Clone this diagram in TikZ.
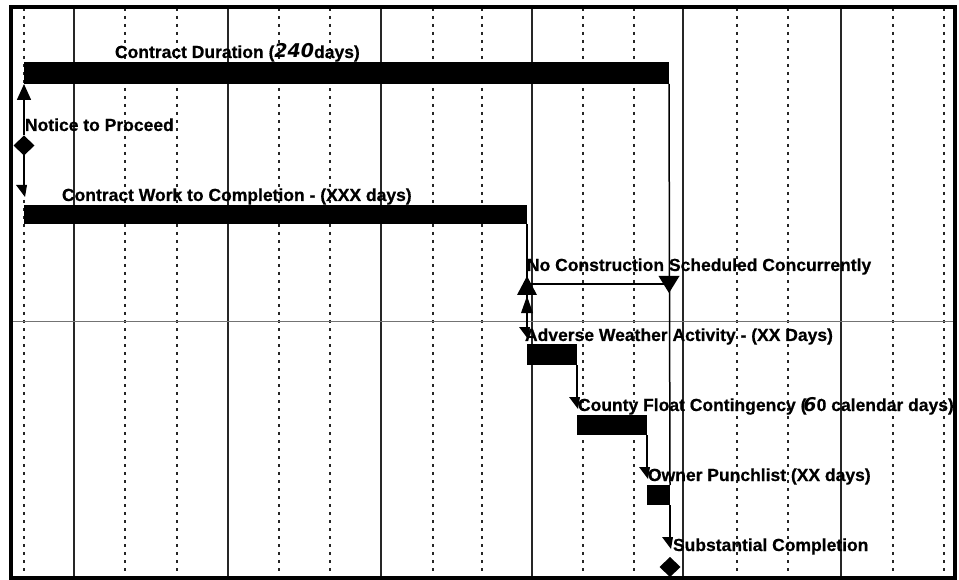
\documentclass[tikz,border=0pt]{standalone}
\usepackage{fontspec}
\setmainfont{Liberation Sans}
\newfontfamily\lblf{Liberation Sans Bold}[FakeBold=0.6]
\newfontfamily\hwf{DejaVu Sans Bold Oblique}
\usetikzlibrary{shapes.geometric,arrows.meta}
\tikzset{
  bar/.style={fill=black,draw=none,inner sep=0pt,outer sep=0pt,anchor=north west},
  lbl/.style={inner sep=0pt,outer sep=0pt,anchor=base west,font=\lblf\fontsize{17.5}{20}\selectfont},
  ms/.style={diamond,fill=black,draw=none,inner sep=0pt,outer sep=0pt,minimum width=21pt,minimum height=20pt},
  link/.style={line width=1.5pt,black},
  gridsolid/.style={line width=1.2pt,black!85},
  griddash/.style={line width=1.1pt,black!85,dash pattern=on 3pt off 5pt},
  tipmark/.pic={\fill[black] (-8,0) -- (3,0) -- (1,12) -- cycle;},
}
\newcommand{\hw}[1]{{\hwf\fontsize{19}{20}\selectfont #1}}
\begin{document}
\begin{tikzpicture}[x=1pt,y=-1pt]
\useasboundingbox (0,0) rectangle (959,580);
\fill[white] (0,0) rectangle (959,580);
% grid
\foreach \gx in {74,228,381,532,683,841}
  \draw[gridsolid] (\gx,8) -- (\gx,577);
\foreach \gx in {24,125,177,279,330,433,482,583,634,737,788,893,944}
  \draw[griddash] (\gx,8) -- (\gx,577);
\draw[line width=1pt,black!55] (10,321) -- (955,321);
% border
\draw[line width=4pt,black] (10.5,7) rectangle (955,578);

% bars
\node[bar,minimum width=645pt,minimum height=22pt] (dur) at (24,62) {};
\node[bar,minimum width=503pt,minimum height=19pt] (work) at (24,205) {};
\node[bar,minimum width=50pt,minimum height=21pt] (adv) at (527,344) {};
\node[bar,minimum width=70pt,minimum height=20pt] (cnty) at (577,415) {};
\node[bar,minimum width=23pt,minimum height=20pt] (own) at (647,485) {};

% milestones
\node[ms] (ntp) at (24,145.5) {};
\node[ms] (sub) at (670,567) {};

% labels
\node[lbl] (durlbl) at (115,58) {Contract Duration (\hw{240}days)};
\node[lbl] (ntplbl) at (25,131) {Notice to Proceed};
\node[lbl] (worklbl) at (62,201) {Contract Work to Completion - (XXX days)};
\node[lbl] (nclbl) at (527,271) {No Construction Scheduled Concurrently};
\node[lbl] (advlbl) at (525,341) {Adverse Weather Activity - (XX Days)};
\node[lbl] (cntylbl) at (578,411) {County Float Contingency (\kern-3pt\hw{6}0 calendar days)};
\node[lbl] (ownlbl) at (648,481) {Owner Punchlist (XX days)};
\node[lbl] (sublbl) at (673,551) {Substantial Completion};

% tip coordinates
\coordinate (wtip) at (24,185);
\coordinate (atip) at (527,327);
\coordinate (ctip) at (577,397);
\coordinate (otip) at (647,467);
\coordinate (stip) at (670,537);
\coordinate (ncs) at (527,284);
\coordinate (nce) at (669,284);

% connectors
\draw[link,-{Triangle[width=14pt,length=16pt]}] (ntp.north) -- (dur.south west);
\draw[link] (ntp.south) -- (wtip);
\draw[link] (work.south east) -- (atip);
\draw[link] (dur.south east) -- (own.north east);
\draw[link] (adv.south east) -- (ctip);
\draw[link] (cnty.south east) -- (otip);
\draw[link] (own.south east) -- (stip);
\draw[line width=1.2pt,black] (ncs) -- (nce);

% triangles of the no-construction milestone
\fill[black] (ncs) ++(0,-8) -- ++(10,19) -- ++(-20,0) -- cycle;
\fill[black] (ncs) ++(0,12) -- ++(6,17) -- ++(-12,0) -- cycle;
\fill[black] (nce) ++(-10.5,-8) -- ++(21,0) -- ++(-10.5,17) -- cycle;

% tips
\foreach \t in {wtip,atip,ctip,otip,stip}
  \pic at (\t) {tipmark};
\end{tikzpicture}
\end{document}
